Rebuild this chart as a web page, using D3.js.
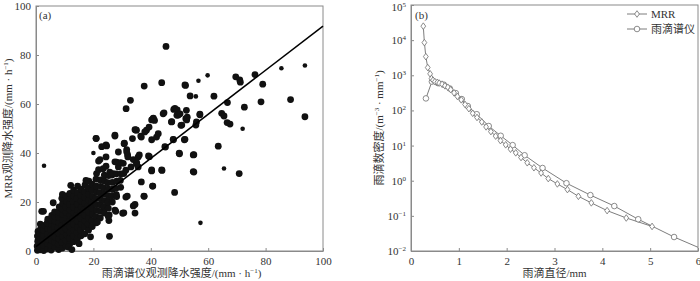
<!DOCTYPE html>
<html><head><meta charset="utf-8">
<script src="https://cdn.jsdelivr.net/npm/d3@7"></script>
<style>
html,body{margin:0;padding:0;background:#fff;}
text{font-family:"Liberation Serif","Noto Sans CJK SC",serif;fill:#333;}
</style></head>
<body><svg id="c" width="700" height="281"></svg>
<script>
// ---------- Panel (a) data ----------
const scatterLarge = [
[0.5,0.3],[0.4,2],[0.6,4],[0.5,6.1],[0.7,8],
[1.5,0.5],[1.4,1.8],[1.6,3.5],[1.5,5.5],[1.3,7.2],[1.6,9],[1.5,11],
[2.7,0.2],[2.6,2.5],[2.8,4.5],[2.7,6.3],[2.6,8.5],[2.9,10.5],[2.0,16.2],[2.6,16.2],
[4.0,0.8],[4.1,3],[3.9,5],[4.0,7],[4.2,9.2],[3.9,11.5],[4.1,13],
[5.3,0.4],[5.2,2.2],[5.4,4.5],[5.3,6.5],[5.1,8.8],[5.4,10.8],[5.3,12.6],[5.5,14.5],
[6.6,1.5],[6.5,3.6],[6.7,5.8],[6.6,8],[6.4,10],[6.7,12.2],[6.6,14],[6.5,16],[6.0,19.7],
[7.9,0.6],[7.8,2.8],[8.0,5],[7.9,7.3],[7.7,9.5],[8.0,11.6],[7.9,13.8],[7.8,16],[8.1,18],
[9.2,1.2],[9.1,3.5],[9.3,6],[9.2,8.2],[9.0,10.4],[9.3,12.8],[9.2,15],[9.1,17.2],[9.3,19.5],[9.0,21.5],[9.2,23.1],
[10.5,1.9],[10.4,4.2],[10.6,6.6],[10.5,9],[10.3,11.2],[10.6,13.5],[10.5,15.8],[10.4,18],[10.6,20.3],[10.5,22.5],
[11.8,3],[11.7,5.3],[11.9,7.6],[11.8,10],[11.6,12.2],[11.9,14.6],[11.8,16.8],[11.7,19],[11.9,21.4],[11.8,23.5],[12.1,26.8],
[13.1,3.8],[13.0,6.2],[13.2,8.6],[13.1,11],[12.9,13.3],[13.2,15.6],[13.1,17.9],[13.0,20.2],[13.2,22.5],[13.1,24.8],
[14.4,5],[14.3,7.5],[14.5,9.8],[14.4,12.1],[14.2,14.5],[14.5,16.8],[14.4,19.2],[14.3,21.5],[14.5,23.8],[14.5,26.5],
[15.7,6.2],[15.6,8.6],[15.8,11],[15.7,13.4],[15.5,15.7],[15.8,18],[15.7,20.4],[15.6,22.8],[15.8,25.2],
[17.0,7],[16.9,9.8],[17.1,12.2],[17.0,14.6],[16.8,17],[17.1,19.5],[17.0,21.8],[16.9,24.2],[17.1,27],[17.4,28.8],
[18.3,8.5],[18.2,11],[18.4,13.5],[18.3,16],[18.1,18.4],[18.4,20.8],[18.3,23.2],[18.2,25.8],[18.4,28.5],
[19.6,10],[19.5,12.5],[19.7,15],[19.6,17.4],[19.4,19.8],[19.7,22.3],[19.6,24.8],[19.5,27.3],
[21.0,11.5],[20.9,14],[21.1,16.6],[21.0,19],[20.8,21.5],[21.1,24],[21.0,26.5],[20.9,29.3],[21.1,31.6],
[22.4,13.5],[22.3,16.2],[22.5,18.8],[22.4,21.3],[22.2,23.8],[22.5,26.4],[22.4,29],[21.8,33.2],[22.3,37.3],[21.8,36.7],
[23.8,15.5],[23.7,18],[23.9,20.6],[23.8,23.2],[23.6,25.8],[23.9,28.5],[23.8,31],[23.4,33.6],[24.4,34.6],[24.4,38.4],
[25.2,17.5],[25.1,20],[25.3,22.5],[25.2,25.2],[25.0,27.9],[25.3,30.8],[25.7,32.2],
[26.6,20],[26.5,22.6],[26.7,25.2],[26.6,28],[26.5,31],[26.9,31.6],
[28.0,23],[27.9,25.6],[28.1,28.5],[28.0,31.5],[28.7,34.3],[28.1,36.3],[29.5,36.1],
[29.5,26],[29.4,28.8],[29.6,31.5],[30.6,31.6],[31.3,33],
[11.3,1.6],[12.5,0.6],[15.0,3],[19.0,5.8],[21.4,11.8],
[25.6,6.0],[25.5,14.7],[25.4,12.4],[25.2,14.1],[27.5,16.7],[27.8,16.2],[30.2,15.4],[30.6,15.6],
[28.1,22.2],[31.3,22.0],[31.8,22.4],[33.9,18.4],[34.5,15.5],[34.5,19.0],[37.6,22.4],[37.7,22.3],
[36.7,28.2],[40.7,26.5],[40.6,26.5],[48.3,23.9],
[20.9,46],[21.0,45.9],[24.6,42.9],[24.4,43.3],[27.5,46.9],[27.5,47.3],[22.9,42.6],
[28.7,40.4],[31.6,41.4],[31.9,39.3],[32.0,38.4],[31.6,40.5],[30.7,43.8],[30.8,44],
[33.1,34.3],[33.9,37.3],[35.0,35.6],[35.6,34.3],[35.6,38.4],[35.1,36],[30.4,35.8],[27.5,36.4],
[34.5,49.5],[35.0,49.3],[34.8,49.4],[36.5,46.9],[36.7,46.5],[33.6,45.9],
[37.9,48.6],[38.5,49.3],[39.4,50.6],[40.3,53.5],[40.8,54],[41.3,53.3],[40.9,54.2],
[36.0,39.2],[39.5,38.5],[39.2,38.8],[40.3,45.4],[42.0,46.5],[42.6,47.9],[44.9,42.6],[45.1,42.4],
[47.8,45.6],[47.9,45.4],[51.7,45.4],[51.9,45.6],[50.0,39.7],[49.9,39.9],[54.8,39.2],[55.0,39.3],
[55.0,32.2],[54.8,32.4],[43.9,32.9],[40.3,32.7],[43.8,33.1],[40.3,33.1],
[44.3,56],[44.6,56.4],[47.2,52.7],[47.3,52.8],[48.0,57.8],[48.4,58.2],[49.2,57.6],[49.6,55.5],[49.1,55.4],
[50.2,56],[50.5,51.3],[50.8,51.4],[52.2,54],[52.5,53.5],[52.4,57.4],[52.7,54.6],
[55.9,52.7],[55.7,51.4],[57.1,55.6],[57.1,55.9],
[31.4,58.1],[32.9,61.5],[37.7,67.3],[43.8,68.7],[45.3,83.5],
[51.9,67.8],[52.1,67.6],[53.7,63.3],[62.0,63.2],
[64.7,56.2],[65.5,55.1],[66.7,60.6],[66.6,52.4],[67.6,51.8],[63.5,42.8],[70.8,31.6],
[69.6,71.1],[71.0,69.8],[71.2,68.9],[76.3,72.0],[79.0,68.1],[72.6,58.7],[78.4,60.9],[88.7,61.8],[93.7,54.8]
];
const scatterSmall = [
[2.8,34.8],[20.0,40.0],[36.8,28.3],[56.6,69.5],[59.8,71.7],[55.7,63.1],[72.0,49.9],[65.5,33.7],[57.3,11.5],[85.5,74.6],[93.7,75.7]
];
const fitSlope = 0.9, fitIntercept = 1.8;
const fitRange = [0, 100];
const ticksA = [0, 20, 40, 60, 80, 100];

// ---------- Panel (b) data ----------
const mrrD = [0.257,0.28,0.31,0.35,0.40,0.43,0.46,0.50,0.55,0.59,0.65,0.71,0.77,0.83,0.90,0.97,1.05,1.13,1.21,1.29,1.38,1.48,1.57,1.67,1.77,1.87,1.98,2.08,2.19,2.30,2.43,2.57,2.72,2.87,3.06,3.27,3.50,3.77,4.10,4.50,5.04];
const mrrN = [25000,8500,3400,1660,1100,810,725,660,630,600,560,500,457,390,316,250,200,148,112,83,63,47,34,25,18.6,13.8,10.5,7.9,6.2,4.57,3.24,2.34,1.66,1.15,0.81,0.56,0.36,0.234,0.141,0.087,0.050];
const dsdD = [0.312,0.437,0.562,0.687,0.812,0.937,1.062,1.187,1.375,1.625,1.875,2.125,2.375,2.75,3.25,3.75,4.25,4.75,5.5,6.5];
const dsdN = [220,660,600,540,420,310,210,133,78,36,19,10.3,5.3,2.3,0.85,0.39,0.19,0.08,0.025,0.0065];
const ticksBx = [0,1,2,3,4,5,6];
const ticksBexp = [-2,-1,0,1,2,3,4,5];
const legendNames = ["MRR", "雨滴谱仪"];

const svg = d3.select("#c");
const axisCol = "#8a8a8a";

function supLabel(sel, parts) {
  parts.forEach(p => {
    if (p[1]) sel.append("tspan").attr("font-size", "7px").attr("dy", "-4").text(p[0]);
    else sel.append("tspan").attr("dy", p[2] || 0).text(p[0]);
  });
}

// ---------- Panel (a) ----------
{
  const L = 36, R = 323, T = 6, B = 251;
  const x = d3.scaleLinear().domain([0, 100]).range([L, R]);
  const y = d3.scaleLinear().domain([0, 100]).range([B, T]);
  const g = svg.append("g");
  g.append("rect").attr("x", L).attr("y", T).attr("width", R - L).attr("height", B - T)
    .attr("fill", "none").attr("stroke", axisCol).attr("stroke-width", 1);
  const xa = g.append("g").attr("transform", `translate(0,${B})`)
    .call(d3.axisBottom(x).tickValues(ticksA).tickSizeInner(-3).tickSizeOuter(0).tickPadding(6));
  const ya = g.append("g").attr("transform", `translate(${L},0)`)
    .call(d3.axisLeft(y).tickValues(ticksA).tickSizeInner(-3).tickSizeOuter(0).tickPadding(5));
  [xa, ya].forEach(a => {
    a.select(".domain").attr("stroke", axisCol);
    a.selectAll(".tick line").attr("stroke", axisCol);
    a.selectAll(".tick text").attr("font-size", "11px").attr("font-family", "Liberation Serif").attr("fill", "#333");
  });
  g.selectAll("circle.big").data(scatterLarge).join("circle")
    .attr("cx", d => x(d[0])).attr("cy", d => y(d[1])).attr("r", 3.4).attr("fill", "#111");
  g.selectAll("circle.sm").data(scatterSmall).join("circle")
    .attr("cx", d => x(d[0])).attr("cy", d => y(d[1])).attr("r", 2.3).attr("fill", "#111");
  g.append("line")
    .attr("x1", x(fitRange[0])).attr("y1", y(fitSlope * fitRange[0] + fitIntercept))
    .attr("x2", x(fitRange[1])).attr("y2", y(fitSlope * fitRange[1] + fitIntercept))
    .attr("stroke", "#000").attr("stroke-width", 1.5);
  g.append("text").attr("x", L + 3).attr("y", T + 13).attr("font-size", "11px").text("(a)");
  const xl = g.append("text").attr("x", (L + R) / 2 + 2).attr("y", 277).attr("text-anchor", "middle").attr("font-size", "11px");
  supLabel(xl, [["雨滴谱仪观测降水强度/(mm · h"], ["−1", true], [")", false, 4]]);
  const yl = g.append("text").attr("transform", `translate(12,${(T + B) / 2}) rotate(-90)`).attr("text-anchor", "middle").attr("font-size", "11px");
  supLabel(yl, [["MRR观测降水强度/(mm · h"], ["−1", true], [")", false, 4]]);
}

// ---------- Panel (b) ----------
{
  const L = 411, R = 698, T = 5, B = 251;
  const x = d3.scaleLinear().domain([0, 6]).range([L, R]);
  const y = d3.scaleLog().domain([1e-2, 1e5]).range([B, T]);
  const g = svg.append("g");
  g.append("clipPath").attr("id", "clipb").append("rect").attr("x", L).attr("y", T).attr("width", R - L).attr("height", B - T);
  g.append("rect").attr("x", L).attr("y", T).attr("width", R - L).attr("height", B - T)
    .attr("fill", "none").attr("stroke", axisCol).attr("stroke-width", 1);
  const xa = g.append("g").attr("transform", `translate(0,${B})`)
    .call(d3.axisBottom(x).tickValues(ticksBx).tickFormat(d3.format("d")).tickSizeInner(-3).tickSizeOuter(0).tickPadding(6));
  const ya = g.append("g").attr("transform", `translate(${L},0)`)
    .call(d3.axisLeft(y).tickValues(ticksBexp.map(e => Math.pow(10, e))).tickFormat("").tickSizeInner(-3).tickSizeOuter(0));
  [xa, ya].forEach(a => {
    a.select(".domain").attr("stroke", axisCol);
    a.selectAll(".tick line").attr("stroke", axisCol);
    a.selectAll(".tick text").attr("font-size", "11px").attr("font-family", "Liberation Serif").attr("fill", "#333");
  });
  ticksBexp.forEach(e => {
    const yy = y(Math.pow(10, e)) + 4 + (e === 5 ? 2 : 0);
    const t = g.append("text").attr("x", L - 5).attr("y", yy).attr("text-anchor", "end").attr("font-size", "11px");
    t.append("tspan").text("10");
    t.append("tspan").attr("font-size", "7px").attr("dy", "-4").text(e < 0 ? "−" + (-e) : String(e));
  });
  const line = d3.line().x(d => x(d[0])).y(d => y(d[1]));
  const mrr = mrrD.map((d, i) => [d, mrrN[i]]);
  const dsd = dsdD.map((d, i) => [d, dsdN[i]]);
  const lc = "#6e6e6e";
  const plot = g.append("g").attr("clip-path", "url(#clipb)");
  plot.append("path").datum(dsd).attr("d", line).attr("fill", "none").attr("stroke", lc).attr("stroke-width", 0.9);
  plot.append("path").datum(mrr).attr("d", line).attr("fill", "none").attr("stroke", lc).attr("stroke-width", 0.9);
  const diamond = "M0,-3.3L2.4,0L0,3.3L-2.4,0Z";
  plot.selectAll("circle.dsd").data(dsd).join("circle")
    .attr("cx", d => x(d[0])).attr("cy", d => y(d[1])).attr("r", 2.8)
    .attr("fill", "#fff").attr("stroke", lc).attr("stroke-width", 0.8);
  plot.selectAll("path.mrr").data(mrr).join("path")
    .attr("transform", d => `translate(${x(d[0])},${y(d[1])})`).attr("d", diamond)
    .attr("fill", "#fff").attr("stroke", lc).attr("stroke-width", 0.8);
  g.append("text").attr("x", L + 4).attr("y", T + 14).attr("font-size", "11px").text("(b)");
  legendNames.forEach((nm, i) => {
    const ly = 14 + i * 15;
    g.append("line").attr("x1", 627).attr("x2", 647).attr("y1", ly).attr("y2", ly).attr("stroke", lc).attr("stroke-width", 0.9);
    if (i === 0) g.append("path").attr("transform", `translate(637,${ly})`).attr("d", diamond).attr("fill", "#fff").attr("stroke", lc).attr("stroke-width", 0.8);
    else g.append("circle").attr("cx", 637).attr("cy", ly).attr("r", 2.8).attr("fill", "#fff").attr("stroke", lc).attr("stroke-width", 0.8);
    g.append("text").attr("x", 651).attr("y", ly + 4).attr("font-size", "11px").text(nm);
  });
  g.append("text").attr("x", (L + R) / 2).attr("y", 277).attr("text-anchor", "middle").attr("font-size", "11px").text("雨滴直径/mm");
  const yl = g.append("text").attr("transform", `translate(383,${(T + B) / 2}) rotate(-90)`).attr("text-anchor", "middle").attr("font-size", "11px");
  supLabel(yl, [["雨滴数密度/(m"], ["−3", true], [" · mm", false, 4], ["−1", true], [")", false, 4]]);
}
</script></body></html>
